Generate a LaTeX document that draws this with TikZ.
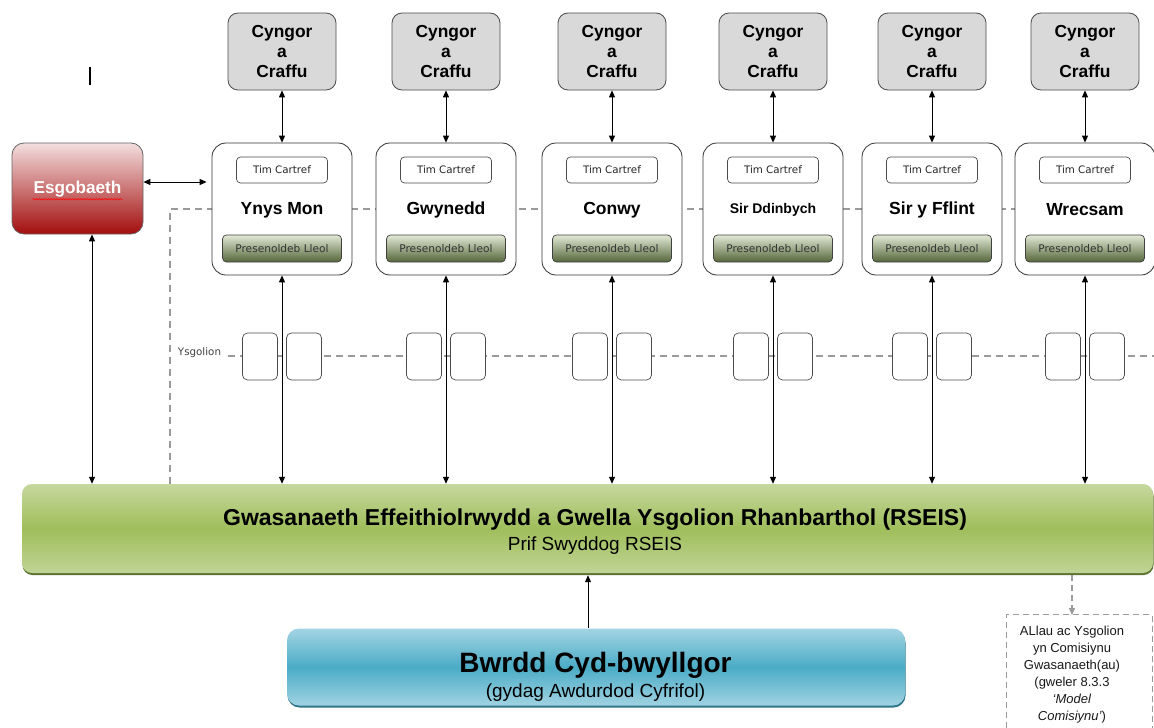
\documentclass[tikz,border=0pt]{standalone}
\usepackage{fontspec}
\setmainfont{Liberation Sans}
\newfontfamily\smallf{DejaVu Sans}
\usetikzlibrary{arrows.meta,decorations.pathmorphing}
\definecolor{cygfill}{HTML}{D9D9D9}
\definecolor{dgray}{HTML}{9A9A9A}
\definecolor{gtop}{HTML}{C6D89E}
\definecolor{gmid}{HTML}{9FBE5B}
\definecolor{gbot}{HTML}{C0D495}
\definecolor{gedge}{HTML}{5B7230}
\definecolor{btop}{HTML}{A3D4E3}
\definecolor{bmid}{HTML}{4BACC6}
\definecolor{bbot}{HTML}{A0D2E2}
\definecolor{bedge}{HTML}{2E7589}
\definecolor{ptop}{HTML}{E2E9D6}
\definecolor{pbot}{HTML}{56663A}
\definecolor{etop}{HTML}{F3DEDE}
\definecolor{ebot}{HTML}{A30D0D}
\tikzset{
  cyngor/.style={draw=black!70, fill=cygfill, rounded corners=10pt, line width=0.8pt,
    minimum width=108pt, minimum height=77pt, align=center,
    font=\bfseries\fontsize{17.4}{20}\selectfont},
  mainbox/.style={draw=black!80, fill=white, rounded corners=14pt, line width=0.8pt,
    minimum width=140pt, minimum height=132pt},
  timbox/.style={draw=black!70, fill=white, rounded corners=4pt, line width=0.7pt,
    minimum width=91pt, minimum height=26pt, font=\smallf\fontsize{10.3}{12}\selectfont, text=black!85},
  presbox/.style={draw=black!75, rounded corners=4pt, line width=0.7pt, top color=ptop, bottom color=pbot,
    minimum width=119pt, minimum height=27pt, font=\smallf\fontsize{10.6}{12}\selectfont, text=black!80},
  school/.style={draw=black!70, fill=white, rounded corners=5pt, line width=0.7pt,
    minimum width=35pt, minimum height=47pt},
  dashg/.style={dgray, line width=1.4pt, dash pattern=on 7pt off 5pt},
  darr/.style={black, line width=1pt, {Triangle[length=7pt,width=6pt]}-{Triangle[length=7pt,width=6pt]}},
  sarr/.style={black, line width=1pt, -{Triangle[length=7pt,width=6pt]}},
}
\begin{document}
\begin{tikzpicture}[x=1pt,y=-1pt]
\useasboundingbox (0,0) rectangle (1154,728);
\fill[white] (0,0) rectangle (1154,728);

% small mark
\draw[black, line width=1.6pt] (90,67) -- (90,85);

% dashed guide lines (behind)
\coordinate (dcorner) at (170,209);
\coordinate (dend) at (1154,209);
\coordinate (yend) at (1154,356);

% green bar shadow + bar
\node[fill=gedge, rounded corners=10pt, minimum width=1131pt, minimum height=89pt] (gshadow) at (588,530.5) {};
\node[rounded corners=10pt, minimum width=1131pt, minimum height=89pt,
      top color=gtop, bottom color=gbot, middle color=gmid] (gbar) at (587.5,528.5) {};
\node[font=\bfseries\fontsize{23}{26}\selectfont] (gtitle) at (595,520) {Gwasanaeth Effeithiolrwydd a Gwella Ysgolion Rhanbarthol (RSEIS)};
\node[font=\fontsize{19}{22}\selectfont] (gsub) at (595,546) {Prif Swyddog RSEIS};

\draw[dashg] (dcorner |- gbar.north) -- (dcorner) -- (dend);

% Ysgolion
\node[font=\smallf\fontsize{10.3}{12}\selectfont, text=black!75] (ysg) at (199.5,353) {Ysgolion};
\draw[dashg] ([xshift=3pt]ysg.east |- yend) -- (yend);

% Esgobaeth
\node[draw=black!60, rounded corners=12pt, line width=0.8pt, top color=etop, bottom color=ebot,
      minimum width=131pt, minimum height=91pt] (esg) at (77.5,188.5) {};
\node[text=white, font=\bfseries\fontsize{17.2}{20}\selectfont, inner sep=1pt] (esgt) at (77.5,189) {Esgobaeth};
\draw[red, line width=0.5pt, decorate, decoration={snake, amplitude=0.7pt, segment length=3pt}]
  ([yshift=-1pt]esgt.south west) -- ([yshift=-1pt]esgt.south east);

% columns
\foreach \i/\cx/\nm/\fs in {1/282/Ynys Mon/17.5, 2/446/Gwynedd/17.5, 3/612/Conwy/17.5,
                           4/773/Sir Ddinbych/14, 5/932/Sir y Fflint/17.5, 6/1085/Wrecsam/17.5} {
  \node[cyngor] (c\i) at (\cx,51.5) {Cyngor\\a\\Craffu};
  \node[mainbox] (m\i) at (\cx,209) {};
  \node[timbox] (t\i) at (\cx,170) {Tim Cartref};
  \node[font=\bfseries\fontsize{\fs}{20}\selectfont] (n\i) at (\cx,210) {\nm};
  \node[presbox] (p\i) at (\cx,248.5) {Presenoldeb Lleol};
  \node[school] (sa\i) at (\cx-22,356.5) {};
  \node[school] (sb\i) at (\cx+22,356.5) {};
  \draw[darr] (c\i.south) -- (m\i.north);
  \draw[darr] (m\i.south) -- (m\i.south |- gbar.north);
}

% Esgobaeth connectors
\draw[darr, shorten >=5pt] ([yshift=6.5pt]esg.east) -- ([yshift=6.5pt]esg.east -| m1.west);
\draw[darr] ([xshift=14.5pt]esg.south) -- ([xshift=14.5pt]esg.south |- gbar.north);

% Bwrdd
\node[fill=bedge, rounded corners=12pt, minimum width=618pt, minimum height=77pt] (bshadow) at (596.5,669) {};
\node[rounded corners=12pt, minimum width=618pt, minimum height=77pt,
      top color=btop, bottom color=bbot, middle color=bmid] (bwrdd) at (596,667) {};
\node[font=\bfseries\fontsize{28}{32}\selectfont] (btitle) at (595.5,665) {Bwrdd Cyd-bwyllgor};
\node[font=\fontsize{19}{22}\selectfont] (bsub) at (595.5,693) {(gydag Awdurdod Cyfrifol)};
\draw[sarr] ([xshift=-8pt]bwrdd.north) -- ([xshift=-8pt]bwrdd.north |- gshadow.south);

% commissioning box
\node[minimum width=145pt, minimum height=113pt, inner sep=0pt] (com) at (1079.5,671.5) {};
\draw[dgray, line width=1.2pt, dash pattern=on 6pt off 4pt] (com.south west) |- (com.north east) -- (com.south east);
\node[align=center, font=\fontsize{13}{17}\selectfont, text=black!90] (comt) at (1072,674.5)
  {ALlau ac Ysgolion\\yn Comisiynu\\Gwasanaeth(au)\\(gweler 8.3.3\\\textit{‘Model}\\\textit{Comisiynu’})};
\coordinate (comtop) at (1072,615);
\draw[dgray, line width=1.4pt, dash pattern=on 6pt off 4pt, -{Triangle[length=7pt,width=6pt]}]
  (gshadow.south -| comtop) -- (comtop);
\end{tikzpicture}
\end{document}
